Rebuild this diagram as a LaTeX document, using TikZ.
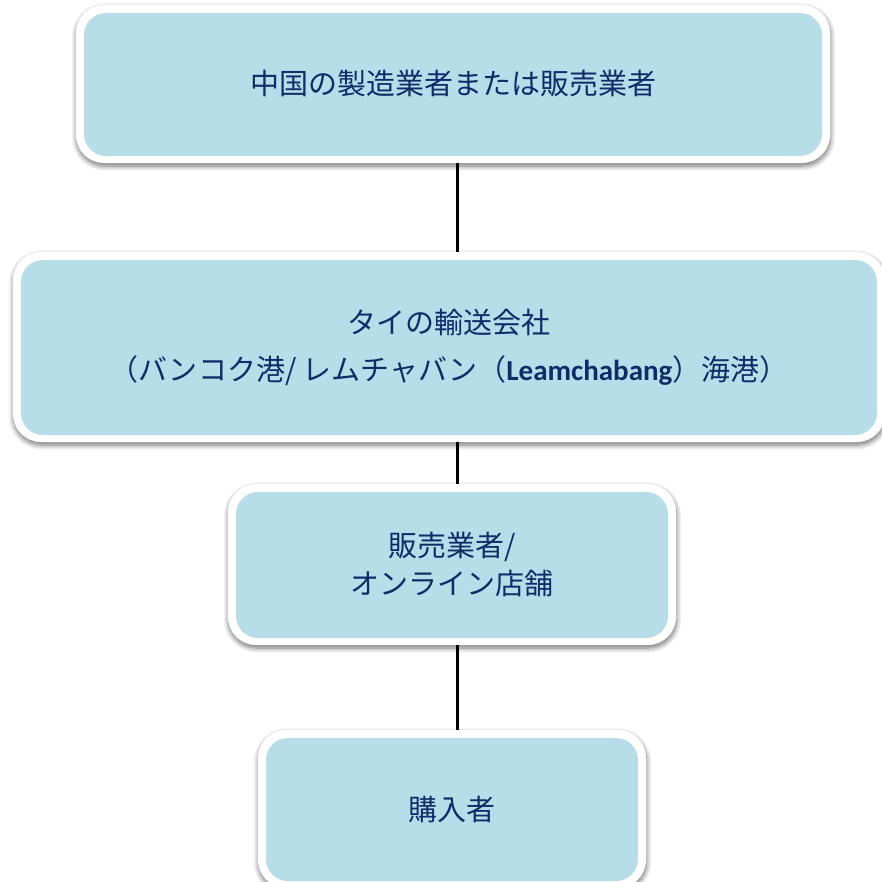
\documentclass[tikz,border=0pt]{standalone}
\usepackage{fontspec}
\setmainfont{Noto Sans CJK JP}
\newfontfamily\latfont{Carlito}
\usetikzlibrary{shadows.blur}
\definecolor{boxfill}{HTML}{B7DDE8}
\definecolor{txtnavy}{RGB}{16,44,104}
\tikzset{
  flowbox/.style={rectangle, draw=none, fill=white,
    rounded corners=28pt, text=txtnavy, align=center, inner sep=0pt,
    blur shadow={shadow xshift=0.5pt, shadow yshift=-3pt, shadow blur steps=8, shadow opacity=55, shadow blur radius=5pt},
    path picture={\fill[boxfill, rounded corners=22pt]
      ([shift={(8pt,7pt)}]path picture bounding box.south west) rectangle
      ([shift={(-8pt,-8pt)}]path picture bounding box.north east);}},
  link/.style={line width=3pt, black}
}
\begin{document}
\begin{tikzpicture}[x=1pt,y=1pt]
\useasboundingbox (0,0) rectangle (882,-881);
\coordinate (lx) at (457,0);
\node[flowbox, minimum width=754pt, minimum height=158pt, font=\fontsize{29}{34}\selectfont] (b1) at (453,-84)
  {中国の製造業者または販売業者};
\node[flowbox, minimum width=872pt, minimum height=190pt, font=\fontsize{29}{47}\selectfont] (b2) at (449,-347)
  {タイの輸送会社\\（バンコク港/\ レムチャバン（{\latfont\bfseries Leamchabang}）海港）};
\node[flowbox, minimum width=448pt, minimum height=161pt, font=\fontsize{29}{38}\selectfont] (b3) at (452,-564.5)
  {販売業者/\\オンライン店舗};
\node[flowbox, minimum width=388pt, minimum height=158pt, font=\fontsize{29}{34}\selectfont] (b4) at (452,-809)
  {購入者};
\draw[link] (b1.south -| lx) -- (b2.north -| lx);
\draw[link] (b2.south -| lx) -- (b3.north -| lx);
\draw[link] (b3.south -| lx) -- (b4.north -| lx);
\end{tikzpicture}
\end{document}
